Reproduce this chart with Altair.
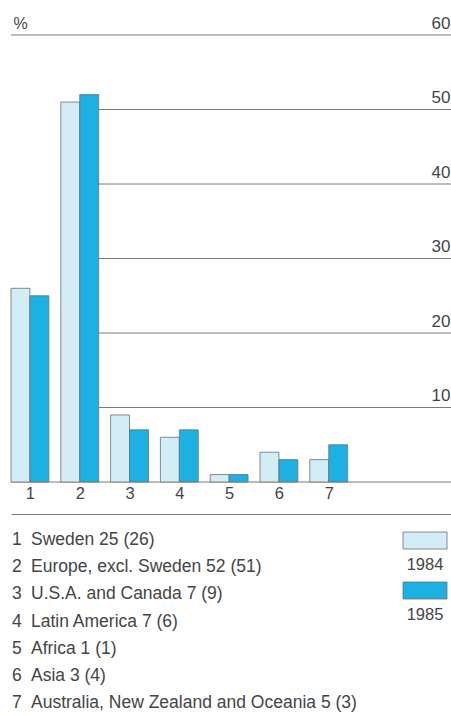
import altair as alt
import pandas as pd

# Regions, numbered as on the x axis
region_nums = [1, 2, 3, 4, 5, 6, 7]
region_names = [
    "Sweden",
    "Europe, excl. Sweden",
    "U.S.A. and Canada",
    "Latin America",
    "Africa",
    "Asia",
    "Australia, New Zealand and Oceania",
]
share_1985 = [25, 52, 7, 7, 1, 3, 5]
share_1984 = [26, 51, 9, 6, 1, 4, 3]
years = ["1984", "1985"]
grid_values = [0, 10, 20, 30, 40, 50, 60]

FONT = "Liberation Sans"
TEXT = "#454545"
GRID = "#7f7878"
COLORS = ["#d3edf6", "#1db0e2"]

BAR_W = 0.38          # width of one bar, in group units
X_MIN = 1 - BAR_W
X_MAX = 9.455

# Long table of bars: 1984 to the left of each group position, 1985 to the right
rows = []
for n, v84, v85 in zip(region_nums, share_1984, share_1985):
    rows.append({"num": n, "year": "1984", "value": v84, "x0": n - BAR_W, "x1": n})
    rows.append({"num": n, "year": "1985", "value": v85, "x0": n, "x1": n + BAR_W})
bars_df = pd.DataFrame(rows)

# Gridlines: 0 and 60 span the whole width, the rest start right of group 2
grid_df = pd.DataFrame({
    "y": grid_values,
    "x0": [X_MIN if g in (0, 60) else 2 + BAR_W for g in grid_values],
    "x1": [X_MAX] * len(grid_values),
})

list_df = pd.DataFrame({
    "num": region_nums,
    "label": [f"{nm} {a} ({b})" for nm, a, b in zip(region_names, share_1985, share_1984)],
})
legend_df = pd.DataFrame({"year": years})

xscale = alt.Scale(domain=[X_MIN, X_MAX], nice=False, zero=False)
yscale = alt.Scale(domain=[0, 60], nice=False)

# Region numbers under the bars; the axis line itself is the separator above the list
x_axis = alt.Axis(
    values=region_nums, format="d", title=None, ticks=False, grid=False,
    domain=True, domainColor=GRID, domainWidth=1, offset=32,
    labelPadding=-29, labelBaseline="top", labelFontSize=16.5,
    labelFont=FONT, labelColor=TEXT,
)
y_axis = alt.Axis(
    orient="right", values=grid_values[1:], ticks=False, grid=False, domain=False,
    labelAlign="right", labelBaseline="alphabetic", labelOffset=-7, labelPadding=-1,
    labelFontSize=17, labelFont=FONT, labelColor=TEXT,
    title="%", titleAngle=0, titleAlign="left", titleBaseline="alphabetic",
    titleX=-438, titleY=-7, titleFontSize=16, titleFont=FONT,
    titleFontWeight="normal", titleColor=TEXT,
)

grid = alt.Chart(grid_df).mark_rule(color=GRID, strokeWidth=1).encode(
    x=alt.X("x0:Q", scale=xscale, axis=x_axis),
    x2="x1:Q",
    y=alt.Y("y:Q", scale=yscale, axis=None),
)

bars = alt.Chart(bars_df).mark_rect(stroke="#6e6e6e", strokeWidth=0.8).encode(
    x=alt.X("x0:Q", scale=xscale, axis=x_axis),
    x2="x1:Q",
    y=alt.Y("value:Q", scale=yscale, axis=y_axis),
    y2=alt.datum(0),
    fill=alt.Fill("year:N", scale=alt.Scale(domain=years, range=COLORS), legend=None),
)

list_y = alt.Y("num:Q", scale=alt.Scale(domain=[1, 7], range=[510, 673]), axis=None)

list_nums = alt.Chart(list_df).mark_text(
    align="left", baseline="alphabetic", fontSize=17.5, font=FONT, color=TEXT
).encode(x=alt.value(1), y=list_y, text="num:N")

list_names = alt.Chart(list_df).mark_text(
    align="left", baseline="alphabetic", fontSize=17.5, font=FONT, color=TEXT
).encode(x=alt.value(20), y=list_y, text="label:N")

# Year key at the right of the list: a swatch with its year underneath
legend_boxes = alt.Chart(legend_df).mark_rect(stroke="#6e6e6e", strokeWidth=0.8).encode(
    x=alt.value(392),
    x2=alt.value(436),
    y=alt.Y(
        "year:O",
        scale=alt.Scale(type="band", domain=years, range=[497, 564],
                        paddingInner=0.66, paddingOuter=0),
        axis=None,
    ),
    fill=alt.Fill("year:N", scale=alt.Scale(domain=years, range=COLORS), legend=None),
)

legend_text = alt.Chart(legend_df).mark_text(
    align="center", baseline="alphabetic", fontSize=16.5, font=FONT, color=TEXT
).encode(
    x=alt.value(414),
    y=alt.Y(
        "year:O",
        scale=alt.Scale(type="point", domain=years, range=[535, 585], padding=0),
        axis=None,
    ),
    text="year:N",
)

chart = (
    alt.layer(grid, bars, list_nums, list_names, legend_boxes, legend_text)
    .resolve_scale(y="independent", fill="shared")
    .properties(
        width=440,
        height=447,
        padding={"left": 11, "top": 35, "right": 0, "bottom": 234},
        autosize=alt.AutoSizeParams(type="none"),
        background="white",
    )
    .configure_view(stroke=None)
)

chart.save("out.html", embed_options={"renderer": "svg", "actions": False})
